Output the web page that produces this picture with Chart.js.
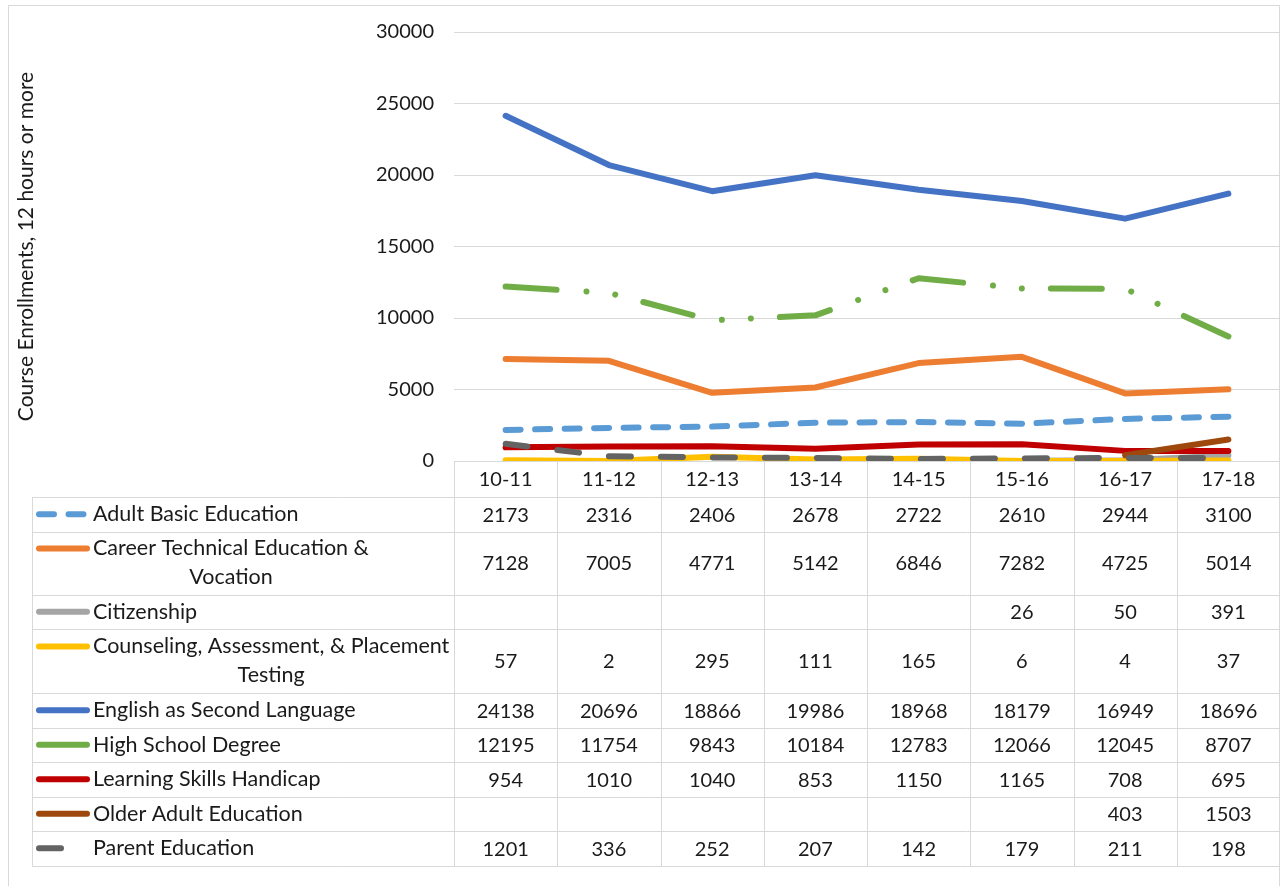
<!DOCTYPE html>
<html>
<head>
<meta charset="utf-8">
<script src="https://cdn.jsdelivr.net/npm/chart.js@4.4.1/dist/chart.umd.min.js"></script>
<style>
  html, body { margin: 0; padding: 0; background: #fff; }
  canvas { display: block; }
</style>
</head>
<body>
<canvas id="enrollChart" width="1281" height="886"></canvas>
<script>
// school years along the x axis
const years = ['10-11', '11-12', '12-13', '13-14', '14-15', '15-16', '16-17', '17-18'];

// enrollments per program
const adultBasic     = [2173, 2316, 2406, 2678, 2722, 2610, 2944, 3100];
const careerTech     = [7128, 7005, 4771, 5142, 6846, 7282, 4725, 5014];
const citizenship    = [null, null, null, null, null, 26, 50, 391];
const counseling     = [57, 2, 295, 111, 165, 6, 4, 37];
const esl            = [24138, 20696, 18866, 19986, 18968, 18179, 16949, 18696];
const highSchool     = [12195, 11754, 9843, 10184, 12783, 12066, 12045, 8707];
const learningSkills = [954, 1010, 1040, 853, 1150, 1165, 708, 695];
const olderAdult     = [null, null, null, null, null, null, 403, 1503];
const parentEd       = [1201, 336, 252, 207, 142, 179, 211, 198];

const seriesData = [adultBasic, careerTech, citizenship, counseling, esl,
                    highSchool, learningSkills, olderAdult, parentEd];

// names as they wrap in the table rows
const seriesNames = [
  ['Adult Basic Education'],
  ['Career Technical Education &', 'Vocation'],
  ['Citizenship'],
  ['Counseling, Assessment, & Placement', 'Testing'],
  ['English as Second Language'],
  ['High School Degree'],
  ['Learning Skills Handicap'],
  ['Older Adult Education'],
  ['Parent Education']
];

const seriesColors = ['#5B9BD5', '#ED7D31', '#A5A5A5', '#FFC000', '#4472C4',
                      '#70AD47', '#C00000', '#9E480E', '#636363'];
const seriesDash = [[15, 14.5], [], [], [], [], [51, 30, 0.01, 29, 0.01, 29], [], [], [22, 30]];

const yMax = 30000;
const yStep = 5000;

const FONT = 'Lato';
const TEXT = '#1a1a1a';
const GRID = '#D9D9D9';

// row heights of the table under the plot (header row first)
const rowHeights = [36, 34.5, 63, 34.5, 64, 34.5, 34.5, 34.5, 34.5, 34.5];

const dataTable = {
  id: 'dataTable',
  afterDraw(chart) {
    const ctx = chart.ctx;
    const xs = chart.scales.x;
    const area = chart.chartArea;
    const tableLeft = 32;
    const right = area.right - 0.5;
    const half = (xs.getPixelForValue(1) - xs.getPixelForValue(0)) / 2;

    ctx.save();
    // outer frame
    ctx.strokeStyle = GRID;
    ctx.lineWidth = 1;
    ctx.strokeRect(8.5, 5.5, 1271, 900);

    // row boundaries
    const bounds = [area.bottom];
    rowHeights.forEach(h => bounds.push(bounds[bounds.length - 1] + h));
    const bottom = Math.round(bounds[bounds.length - 1]) + 0.5;

    ctx.beginPath();
    for (let r = 1; r < bounds.length; r++) {
      const y = Math.round(bounds[r]) + 0.5;
      ctx.moveTo(tableLeft, y);
      ctx.lineTo(right, y);
    }
    ctx.moveTo(tableLeft + 0.5, Math.round(bounds[1]) + 0.5);
    ctx.lineTo(tableLeft + 0.5, bottom);
    for (let i = 0; i <= years.length; i++) {
      const x = Math.round(xs.getPixelForValue(0) - half + i * half * 2) + 0.5;
      ctx.moveTo(Math.min(x, right), Math.round(area.bottom) + 0.5);
      ctx.lineTo(Math.min(x, right), bottom);
    }
    ctx.stroke();

    ctx.fillStyle = TEXT;
    ctx.textBaseline = 'middle';
    ctx.textAlign = 'center';

    seriesNames.forEach((lines, s) => {
      const top = bounds[s + 1];
      const h = rowHeights[s + 1];
      const cy = top + h / 2;
      const lineGap = 29;
      const firstY = cy - (lines.length - 1) * lineGap / 2;

      // legend key
      ctx.save();
      ctx.strokeStyle = seriesColors[s];
      ctx.lineWidth = 6;
      ctx.lineCap = 'round';
      ctx.setLineDash(seriesDash[s]);
      ctx.beginPath();
      ctx.moveTo(39, firstY);
      ctx.lineTo(87, firstY);
      ctx.stroke();
      ctx.restore();

      // name, lines centered in a block starting at x=93
      ctx.font = '21.5px ' + FONT;
      const widths = lines.map(l => ctx.measureText(l).width);
      const blockW = Math.max(...widths);
      lines.forEach((l, k) => ctx.fillText(l, 93 + blockW / 2, firstY + k * lineGap));

      // values
      ctx.font = '20px ' + FONT;
      seriesData[s].forEach((v, i) => {
        if (v === null) return;
        ctx.fillText(String(v), xs.getPixelForValue(i), cy + 1);
      });
    });
    ctx.restore();
  }
};

const datasets = seriesData.map((d, i) => ({
  label: seriesNames[i].join(' '),
  data: d,
  borderColor: seriesColors[i],
  backgroundColor: seriesColors[i],
  borderWidth: 6,
  borderDash: seriesDash[i],
  borderCapStyle: 'round',
  borderJoinStyle: 'round',
  pointRadius: 0,
  tension: 0,
  order: seriesData.length - i
}));

new Chart(document.getElementById('enrollChart'), {
  type: 'line',
  data: { labels: years, datasets },
  options: {
    responsive: false,
    animation: false,
    devicePixelRatio: 1,
    layout: { padding: { left: 8, right: 1, top: 30, bottom: 0 } },
    plugins: {
      legend: { display: false },
      tooltip: { enabled: false }
    },
    scales: {
      x: {
        offset: true,
        grid: { display: false },
        border: { display: false },
        ticks: { color: TEXT, font: { family: FONT, size: 20 }, padding: -1, maxRotation: 0 },
        afterFit(scale) { scale.height = 425; }
      },
      y: {
        min: 0,
        max: yMax,
        grid: { color: GRID, lineWidth: 1, drawTicks: false },
        border: { display: false },
        ticks: {
          stepSize: yStep,
          color: TEXT,
          font: { family: FONT, size: 20 },
          padding: 20,
          callback: v => String(v)
        },
        title: {
          display: true,
          text: 'Course Enrollments, 12 hours or more',
          color: TEXT,
          font: { family: FONT, size: 21 },
          padding: { top: 6 }
        },
        afterFit(scale) { scale.width = 446; }
      }
    }
  },
  plugins: [dataTable]
});
</script>
</body>
</html>
